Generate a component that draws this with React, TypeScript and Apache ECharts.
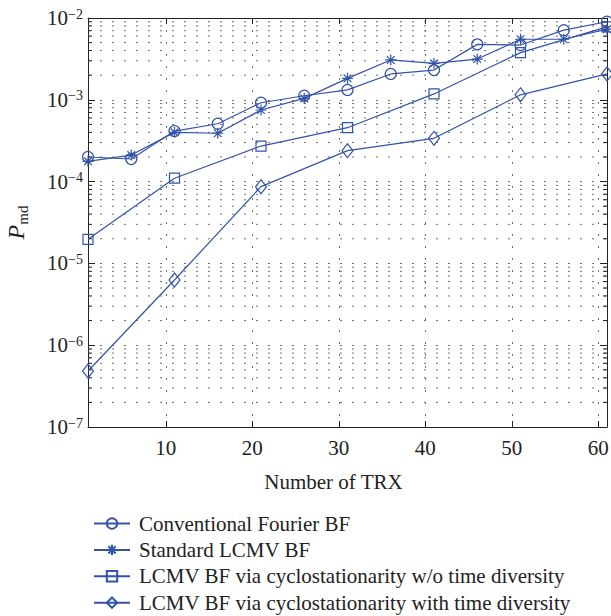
import React, { useEffect, useRef } from 'react';
import * as echarts from 'echarts';

const xTRX = [1, 6, 11, 16, 21, 26, 31, 36, 41, 46, 51, 56, 61];
const conventionalFourier = [2.0e-4, 1.89e-4, 4.15e-4, 5.1e-4, 9.2e-4, 1.12e-3, 1.32e-3, 2.07e-3, 2.31e-3, 4.76e-3, 4.67e-3, 7.1e-3, 9.0e-3];
const standardLCMV = [1.77e-4, 2.11e-4, 4.0e-4, 3.9e-4, 7.5e-4, 1.04e-3, 1.83e-3, 3.07e-3, 2.79e-3, 3.15e-3, 5.5e-3, 5.5e-3, 7.3e-3];
const xCyclo = [1, 11, 21, 31, 41, 51, 61];
const cycloNoTimeDiv = [1.97e-5, 1.1e-4, 2.72e-4, 4.56e-4, 1.18e-3, 3.77e-3, 7.8e-3];
const cycloTimeDiv = [4.84e-7, 6.27e-6, 8.67e-5, 2.39e-4, 3.38e-4, 1.15e-3, 2.07e-3];

const seriesNames = [
  'Conventional Fourier BF',
  'Standard LCMV BF',
  'LCMV BF via cyclostationarity w/o time diversity',
  'LCMV BF via cyclostationarity with time diversity',
];
const xTickValues = [10, 20, 30, 40, 50, 60];
const xMin = 1;
const xMax = 61;
const yMin = 1e-7;
const yMax = 1e-2;
const decadeExponents = [-7, -6, -5, -4, -3];
const minorMultipliers = [2, 3, 4, 5, 6, 7, 8, 9];
const minorTickValues = decadeExponents.flatMap((e) => minorMultipliers.map((m) => m * Math.pow(10, e)));

const BLUE = '#3253a8';
const FONT = 'Liberation Serif';
const GRID_DOT = '#707070';
const AXIS = '#222222';
const STAR = 'path://M0,-10L0,10M-10,0L10,0M-7,-7L7,7M-7,7L7,-7';

function zip(xs: number[], ys: number[]) {
  return xs.map((x, i) => [x, ys[i]]);
}

export default function App() {
  const ref = useRef<HTMLDivElement>(null);
  useEffect(() => {
    if (!ref.current) return;
    const chart = echarts.init(ref.current, null, { renderer: 'svg' });
    const markerStyle = { color: 'rgba(255,255,255,0)', borderColor: BLUE, borderWidth: 1.2 };
    const lineSeries = (name: string, data: number[][], symbol: string, size: any) => ({
      name,
      type: 'line',
      data,
      symbol,
      symbolSize: size,
      showAllSymbol: true,
      lineStyle: { color: BLUE, width: 1.2 },
      itemStyle: markerStyle,
      z: 3,
    });
    const superLabel = (v: number) => {
      const e = Math.round(Math.log10(v));
      return `{b|10}{s|\u2212${-e}}`;
    };
    const option: any = {
      animation: false,
      backgroundColor: '#ffffff',
      textStyle: { fontFamily: FONT },
      grid: { left: 88, top: 18, right: 4, bottom: 189, outerBoundsMode: 'none', containLabel: false },
      legend: {
        orient: 'vertical',
        left: 93,
        top: 513,
        height: 103,
        padding: 0,
        itemWidth: 36,
        itemHeight: 13,
        itemGap: 5.4,
        data: seriesNames,
        textStyle: { fontFamily: FONT, fontSize: 21, color: '#222', padding: [0, 0, 0, 4] },
      },
      xAxis: [
        {
          type: 'value',
          min: xMin,
          max: xMax,
          position: 'bottom',
          name: 'Number of TRX',
          nameLocation: 'middle',
          nameGap: 44,
          nameTextStyle: { fontFamily: FONT, fontSize: 21, color: '#222', padding: [0, 28, 0, 0] },
          axisLine: { show: true, onZero: false, lineStyle: { color: AXIS, width: 1 } },
          axisTick: { show: true, inside: true, length: 6, customValues: xTickValues, lineStyle: { color: AXIS } },
          axisLabel: { customValues: xTickValues, fontFamily: FONT, fontSize: 21, color: '#222', margin: 10 },
          splitLine: { show: true, lineStyle: { color: GRID_DOT, type: [2, 10], width: 1 } },
        },
        {
          type: 'value',
          min: xMin,
          max: xMax,
          position: 'top',
          axisLine: { show: true, onZero: false, lineStyle: { color: AXIS, width: 1 } },
          axisTick: { show: true, inside: true, length: 6, customValues: xTickValues, lineStyle: { color: AXIS } },
          axisLabel: { show: false },
          splitLine: { show: false },
        },
      ],
      yAxis: [
        {
          type: 'log',
          logBase: 10,
          min: yMin,
          max: yMax,
          interval: 1,
          position: 'left',
          name: '{p|P}{s|md}',
          nameLocation: 'middle',
          nameRotate: 90,
          nameGap: 58,
          nameTextStyle: {
            rich: {
              p: { fontFamily: FONT, fontSize: 24, fontStyle: 'italic', color: '#222', lineHeight: 28 },
              s: { fontFamily: FONT, fontSize: 15, color: '#222', verticalAlign: 'bottom', lineHeight: 24 },
            },
          },
          axisLine: { show: true, onZero: false, lineStyle: { color: AXIS, width: 1 } },
          axisTick: { show: true, inside: true, length: 7, lineStyle: { color: AXIS } },
          axisLabel: {
            formatter: superLabel,
            margin: 5,
            rich: {
              b: { fontFamily: FONT, fontSize: 21, color: '#222', lineHeight: 22 },
              s: { fontFamily: FONT, fontSize: 14, color: '#222', verticalAlign: 'top', lineHeight: 12 },
            },
          },
          splitLine: { show: true, lineStyle: { color: GRID_DOT, type: [2, 10], width: 1 } },
          minorTick: { show: false },
        },
        {
          type: 'log',
          logBase: 10,
          min: yMin,
          max: yMax,
          interval: 1,
          position: 'right',
          axisLine: { show: true, onZero: false, lineStyle: { color: AXIS, width: 1 } },
          axisTick: { show: true, inside: true, length: 7, lineStyle: { color: AXIS } },
          axisLabel: { show: false },
          splitLine: { show: false },
        },
      ],
      series: [
        {
          type: 'custom',
          silent: true,
          z: 1,
          xAxisIndex: 0,
          yAxisIndex: 0,
          data: minorTickValues.map((v) => [xMin, v]),
          encode: { x: 0, y: 1 },
          renderItem: (params: any, api: any) => {
            const v = api.value(1);
            const l = api.coord([xMin, v]);
            const r = api.coord([xMax, v]);
            return {
              type: 'group',
              children: [
                {
                  type: 'line',
                  shape: { x1: l[0], y1: l[1], x2: r[0], y2: r[1] },
                  style: { stroke: GRID_DOT, lineWidth: 1, lineDash: [2, 10] },
                },
                {
                  type: 'line',
                  shape: { x1: l[0], y1: l[1], x2: l[0] + 4, y2: l[1] },
                  style: { stroke: AXIS, lineWidth: 1 },
                },
                {
                  type: 'line',
                  shape: { x1: r[0] - 4, y1: r[1], x2: r[0], y2: r[1] },
                  style: { stroke: AXIS, lineWidth: 1 },
                },
              ],
            };
          },
        },
        lineSeries(seriesNames[0], zip(xTRX, conventionalFourier), 'circle', 11),
        lineSeries(seriesNames[1], zip(xTRX, standardLCMV), STAR, 11),
        lineSeries(seriesNames[2], zip(xCyclo, cycloNoTimeDiv), 'rect', 10),
        lineSeries(seriesNames[3], zip(xCyclo, cycloTimeDiv), 'diamond', [11, 14]),
      ],
    };
    chart.setOption(option);
    return () => chart.dispose();
  }, []);
  return <div ref={ref} style={{ position: 'fixed', left: 0, top: 0, width: 611, height: 616 }} />;
}
